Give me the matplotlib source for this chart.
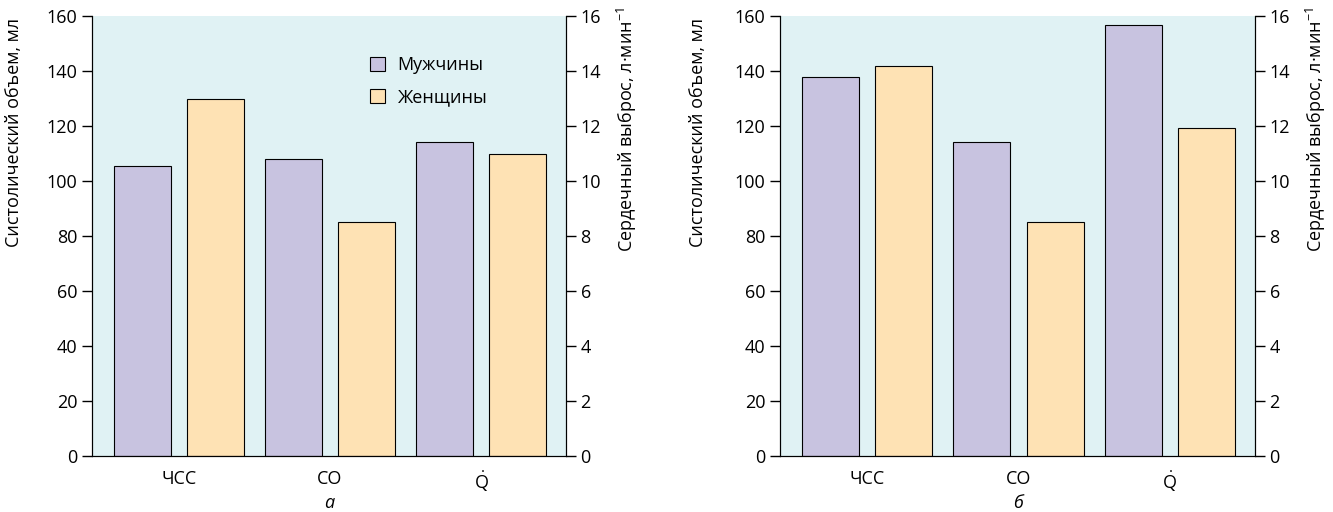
import matplotlib
matplotlib.use("Agg")
import matplotlib.pyplot as plt
import numpy as np
from matplotlib.patches import Patch

plt.rcParams['font.family'] = ['Open Sans', 'DejaVu Sans']
plt.rcParams['mathtext.fontset'] = 'custom'
plt.rcParams['mathtext.rm'] = 'Open Sans'
plt.rcParams['mathtext.it'] = 'Open Sans:italic'
plt.rcParams['mathtext.sf'] = 'Open Sans'

categories = ["ЧСС", "СО", r"$\dot{\mathrm{Q}}$"]
series_names = ["Мужчины", "Женщины"]
panel_a_men = [105.5, 108, 114.2]
panel_a_women = [130, 85, 110]
panel_b_men = [137.8, 114.2, 156.7]
panel_b_women = [141.8, 85, 119.3]
panel_labels = ["а", "б"]
left_ticks = [0, 20, 40, 60, 80, 100, 120, 140, 160]
right_ticks = [0, 2, 4, 6, 8, 10, 12, 14, 16]

bg = "#e0f2f4"
c_men = "#c8c3e0"
c_women = "#fee2b4"
fs = 13

fig = plt.figure(figsize=(13.33, 5.12), dpi=100)
positions = [[92/1333, 1-456/512, 474/1333, 440/512],
             [780/1333, 1-456/512, 475/1333, 440/512]]
label_x = [-0.146, -0.154]
data = [(panel_a_men, panel_a_women), (panel_b_men, panel_b_women)]

x = np.arange(len(categories))
w = 0.377
off = 0.242
for i, (pos, (men, women)) in enumerate(zip(positions, data)):
    ax = fig.add_axes(pos)
    ax.set_facecolor(bg)
    ax.bar(x - off, men, w, color=c_men, edgecolor="black", linewidth=0.8, zorder=2)
    ax.bar(x + off, women, w, color=c_women, edgecolor="black", linewidth=0.8, zorder=2)
    ax.set_xlim(-0.576, 2.563)
    ax.set_ylim(0, 160)
    ax.set_yticks(left_ticks)
    ax.set_xticks(x)
    ax.set_xticklabels(categories, fontsize=fs)
    ax.tick_params(axis='x', length=0, pad=10)
    ax.tick_params(axis='y', labelsize=fs, length=7, width=1, direction='out')
    ax.spines['top'].set_visible(False)
    ax.set_ylabel("Систолический объем, мл", fontsize=fs, loc='top')
    ax.yaxis.set_label_coords(label_x[i], 0.9955)
    ax2 = ax.twinx()
    ax2.set_ylim(0, 16)
    ax2.set_yticks(right_ticks)
    ax2.tick_params(axis='y', labelsize=fs, length=7, width=1, direction='out')
    ax2.spines['top'].set_visible(False)
    ax2.set_ylabel("Сердечный выброс, л·мин$^{\\mathsf{-1}}$", fontsize=fs, loc='top')
    ax2.yaxis.set_label_coords(1.103, 1.02)
    ax.text(0.5, -0.107, panel_labels[i], transform=ax.transAxes, ha='center',
            va='center', fontsize=fs, style='italic')
    if i == 0:
        handles = [Patch(facecolor=c_men, edgecolor='black', linewidth=0.8),
                   Patch(facecolor=c_women, edgecolor='black', linewidth=0.8)]
        ax.legend(handles, series_names, loc='upper left', bbox_to_anchor=(0.553, 0.945),
                  frameon=False, fontsize=fs, handlelength=0.8, handleheight=0.8,
                  labelspacing=0.75, handletextpad=0.7)

fig.savefig("out.png", dpi=100)
